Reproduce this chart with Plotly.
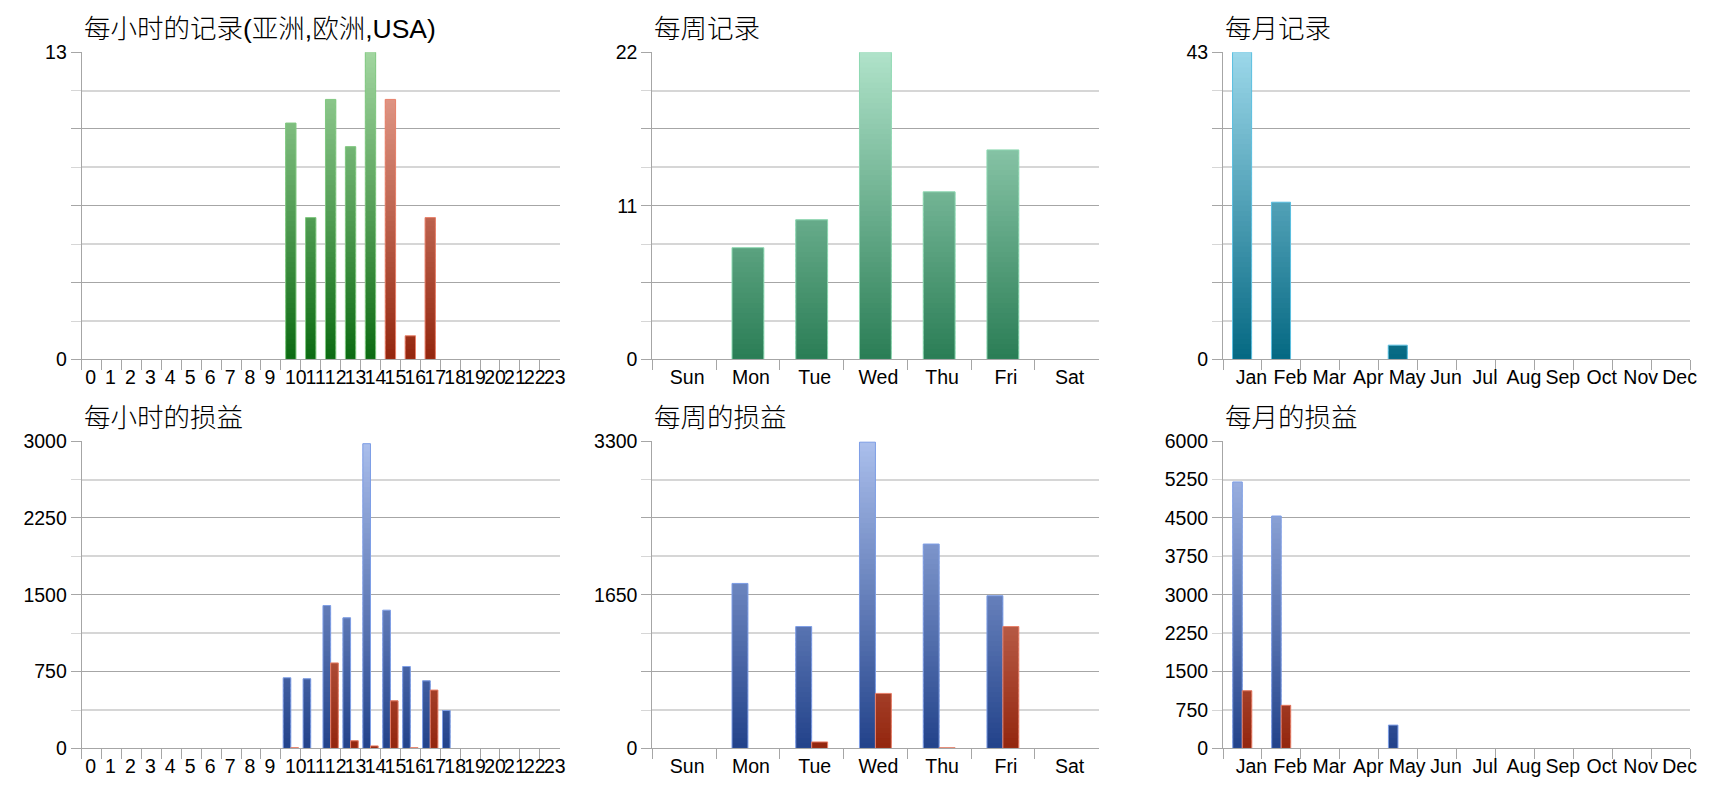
import plotly.graph_objects as go

# ---------------- data ----------------
hours = ["0", "1", "2", "3", "4", "5", "6", "7", "8", "9", "10", "11",
         "12", "13", "14", "15", "16", "17", "18", "19", "20", "21", "22", "23"]
days = ["Sun", "Mon", "Tue", "Wed", "Thu", "Fri", "Sat"]
months = ["Jan", "Feb", "Mar", "Apr", "May", "Jun", "Jul", "Aug", "Sep", "Oct", "Nov", "Dec"]

hour_rec_green = [0, 0, 0, 0, 0, 0, 0, 0, 0, 0, 10, 6, 11, 9, 13, 0, 0, 0, 0, 0, 0, 0, 0, 0]
hour_rec_red = [0, 0, 0, 0, 0, 0, 0, 0, 0, 0, 0, 0, 0, 0, 0, 11, 1, 6, 0, 0, 0, 0, 0, 0]
week_rec = [0, 8, 10, 22, 12, 15, 0]
month_rec = [43, 22, 0, 0, 2, 0, 0, 0, 0, 0, 0, 0]

hour_pl_blue = [0, 0, 0, 0, 0, 0, 0, 0, 0, 0, 690, 680, 1395, 1275, 2975, 1350, 800, 660, 370, 0, 0, 0, 0, 0]
hour_pl_red = [0, 0, 0, 0, 0, 0, 0, 0, 0, 0, 8, 0, 835, 75, 25, 465, 8, 570, 0, 0, 0, 0, 0, 0]
week_pl_blue = [0, 1772, 1309, 3290, 2195, 1640, 0]
week_pl_red = [0, 0, 70, 591, 8, 1309, 0]
month_pl_blue = [5203, 4538, 0, 0, 456, 0, 0, 0, 0, 0, 0, 0]
month_pl_red = [1127, 842, 0, 0, 0, 0, 0, 0, 0, 0, 0, 0]

titles = ["每小时的记录(亚洲,欧洲,USA)", "每周记录", "每月记录",
          "每小时的损益", "每周的损益", "每月的损益"]
y_max = [13, 22, 43, 3000, 3300, 6000]
y_labels_major = [["0", "", "", "", "13"],
                  ["0", "", "11", "", "22"],
                  ["0", "", "", "", "43"],
                  ["0", "750", "1500", "2250", "3000"],
                  ["0", "", "1650", "", "3300"],
                  ["0", "1500", "3000", "4500", "6000"]]
y_labels_minor6 = ["750", "2250", "3750", "5250"]

# ---------------- styling ----------------
W, H = 1720, 800
col_px = [(82, 562), (655, 1103), (1228, 1697)]
row_px = [(42.3, 358.3), (442.3, 758.3)]
title_px = [19, 418]
DARK = "#a6a6a6"
LIGHT = "#d6d6d6"
TICK_FONT = dict(family="Liberation Sans, Arial, sans-serif", size=19.5, color="#000000")
TITLE_FONT = dict(family="Liberation Sans, Noto Sans CJK SC, sans-serif", size=26.5, color="#000000",
                  weight=300)

GREEN1 = ("#0c6a12", "#a2d6a0", "#80c880")
RED = ("#93260e", "#eca898", "#e8806a")
GREEN2 = ("#2a7d55", "#b0e3ca", "#8ed8b2")
TEAL = ("#046882", "#9cd8ea", "#5bbfe0")
BLUE = ("#22428a", "#abbfec", "#7e9ee6")


def hex2rgb(h):
    h = h.lstrip("#")
    return tuple(int(h[i:i + 2], 16) for i in (0, 2, 4))


def lerp(c0, c1, t):
    a, b = hex2rgb(c0), hex2rgb(c1)
    return "rgb(%d,%d,%d)" % tuple(round(a[i] + (b[i] - a[i]) * t) for i in range(3))


fig = go.Figure()


def add_gradient_bars(idx, cats, values, ymax, style, width, offset, nb=60):
    xr = "x" if idx == 1 else "x%d" % idx
    yr = "y" if idx == 1 else "y%d" % idx
    c0, c1, outline = style
    h = ymax / nb
    for k in range(nb):
        lo = k * h
        seg = [max(0.0, min(v - lo, 1.6 * h)) for v in values]
        if not any(s > 0 for s in seg):
            continue
        seg = [s if s > 0 else None for s in seg]
        t = (k + 0.5) / nb
        fig.add_trace(go.Bar(x=cats, y=seg, base=[lo] * len(cats), width=width, offset=offset,
                             marker=dict(color=lerp(c0, c1, t), line=dict(width=0)),
                             xaxis=xr, yaxis=yr, hoverinfo="skip", showlegend=False))
    fig.add_trace(go.Bar(x=cats, y=[v if v > 0 else None for v in values], width=width, offset=offset,
                         marker=dict(color="rgba(0,0,0,0)", line=dict(color=outline, width=1)),
                         xaxis=xr, yaxis=yr, showlegend=False))


# charts
add_gradient_bars(1, hours, hour_rec_green, y_max[0], GREEN1, 0.52, -0.26)
add_gradient_bars(1, hours, hour_rec_red, y_max[0], RED, 0.52, -0.26)
add_gradient_bars(2, days, week_rec, y_max[1], GREEN2, 0.5, -0.25)
add_gradient_bars(3, months, month_rec, y_max[2], TEAL, 0.49, -0.255)
add_gradient_bars(4, hours, hour_pl_blue, y_max[3], BLUE, 0.385, -0.385)
add_gradient_bars(4, hours, hour_pl_red, y_max[3], RED, 0.385, 0.0)
add_gradient_bars(5, days, week_pl_blue, y_max[4], BLUE, 0.25, -0.25)
add_gradient_bars(5, days, week_pl_red, y_max[4], RED, 0.25, 0.0)
add_gradient_bars(6, months, month_pl_blue, y_max[5], BLUE, 0.245, -0.25)
add_gradient_bars(6, months, month_pl_red, y_max[5], RED, 0.245, -0.005)

layout = dict(width=W, height=H, margin=dict(l=0, r=0, t=0, b=0), autosize=False,
              paper_bgcolor="white", plot_bgcolor="white", barmode="overlay",
              hovermode=False, showlegend=False)

cat_lists = [hours, days, months, hours, days, months]
label_shift = [-1, 3, 9, -1, 3, 9]
annotations = []
for i in range(6):
    idx = i + 1
    r, c = divmod(i, 3)
    x0, x1 = col_px[c]
    ytop, ybot = row_px[r]
    xd = [x0 / W, x1 / W]
    yd = [1 - ybot / H, 1 - ytop / H]
    xk = "xaxis" if idx == 1 else "xaxis%d" % idx
    yk = "yaxis" if idx == 1 else "yaxis%d" % idx
    ya = "y" if idx == 1 else "y%d" % idx
    xa = "x" if idx == 1 else "x%d" % idx
    m = y_max[i]
    cats = cat_lists[i]
    # hour charts: two-digit labels are drawn by an overlaid axis (slightly shifted)
    ttext = [t if not (cats is hours and len(t) == 2) else "" for t in cats]
    layout[xk] = dict(domain=xd, anchor=ya, type="category", categoryorder="array", categoryarray=cats,
                      range=[-0.5, len(cats) - 0.5],
                      tickmode="array", tickvals=cats, ticktext=ttext, tickangle=0,
                      showgrid=False, zeroline=False,
                      showline=True, linecolor=DARK, linewidth=1,
                      ticks="outside", tickson="boundaries", ticklen=10, tickcolor=DARK,
                      tickfont=TICK_FONT, ticklabelshift=label_shift[i], fixedrange=True)
    layout[yk] = dict(domain=yd, anchor=xa, range=[0, m], showline=True, linecolor=DARK, linewidth=1,
                      zeroline=False, tickmode="array",
                      tickvals=[0, m / 4, m / 2, 3 * m / 4, m], ticktext=y_labels_major[i],
                      showgrid=True, gridcolor=DARK, gridwidth=1,
                      ticks="outside", ticklen=10, tickcolor=DARK, tickfont=TICK_FONT,
                      minor=dict(tickvals=[m / 8, 3 * m / 8, 5 * m / 8, 7 * m / 8], ticks="outside",
                                 ticklen=10, tickcolor=LIGHT, showgrid=True, gridcolor=LIGHT, gridwidth=2),
                      fixedrange=True)
    annotations.append(dict(text=titles[i], xref="paper", yref="paper", x=x0 / W, y=1 - title_px[r] / H,
                            xanchor="left", yanchor="middle", showarrow=False, font=TITLE_FONT))

# extra labels on the monthly profit chart (every grid line labelled)
layout["yaxis7"] = dict(overlaying="y6", anchor="x6", side="left", range=[0, y_max[5]],
                        tickmode="array", tickvals=[750, 2250, 3750, 5250], ticktext=y_labels_minor6,
                        showgrid=False, zeroline=False, showline=False, ticks="outside",
                        ticklen=10, tickcolor=LIGHT, tickfont=TICK_FONT, fixedrange=True)
fig.add_trace(go.Scatter(x=[months[0]], y=[None], xaxis="x6", yaxis="y7", showlegend=False,
                         mode="markers", hoverinfo="skip"))

# two-digit hour labels for the two hourly charts
two_digit = [h for h in hours if len(h) == 2]
for xk_new, base_x, base_y in (("xaxis7", "x", "y"), ("xaxis8", "x4", "y4")):
    layout[xk_new] = dict(overlaying=base_x, anchor=base_y, side="bottom", type="category",
                          categoryorder="array", categoryarray=hours, range=[-0.5, len(hours) - 0.5],
                          tickmode="array", tickvals=two_digit, ticktext=two_digit, tickangle=0,
                          showgrid=False, zeroline=False, showline=True, linecolor="rgba(0,0,0,0)",
                          linewidth=1, ticks="outside", tickson="boundaries", ticklen=10,
                          tickcolor="rgba(0,0,0,0)",
                          tickfont=TICK_FONT, ticklabelshift=5, fixedrange=True)
    fig.add_trace(go.Scatter(x=hours, y=[None] * len(hours), xaxis=xk_new.replace("axis", ""),
                             yaxis=base_y, showlegend=False, mode="markers", hoverinfo="skip"))

layout["annotations"] = annotations
fig.update_layout(**layout)

fig.write_html("out.html", post_script="document.body.style.margin='0';",
               config={"displayModeBar": False, "staticPlot": True})
